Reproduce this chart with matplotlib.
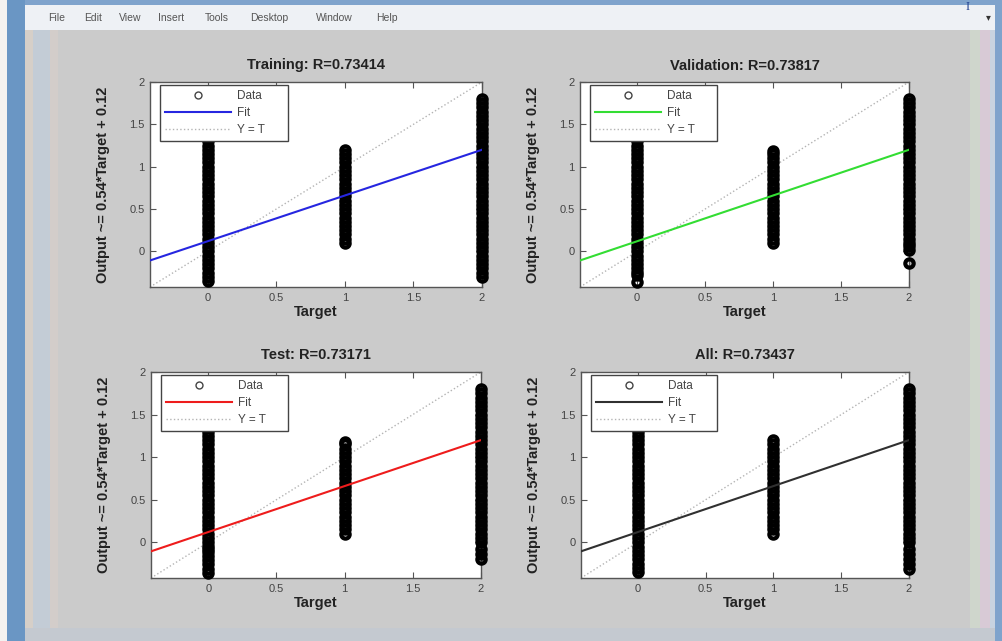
import matplotlib
matplotlib.use("Agg")
import matplotlib.pyplot as plt
from matplotlib.patches import Rectangle
from matplotlib.lines import Line2D

# ---------------- data ----------------
titles = ["Training: R=0.73414", "Validation: R=0.73817", "Test: R=0.73171", "All: R=0.73437"]
fit_colors = ["#2626e0", "#33dd33", "#ee1c1c", "#303030"]
fit_slope = 0.54
fit_offset = 0.12
ylabel_text = "Output ~= 0.54*Target + 0.12"
axis_min = -0.42
axis_max = 2.0
xticks = [0, 0.5, 1, 1.5, 2]
xtick_labels = ["0", "0.5", "1", "1.5", "2"]
yticks = [0, 0.5, 1, 1.5, 2]
ytick_labels = ["0", "0.5", "1", "1.5", "2"]
menu_items = ["File", "Edit", "View", "Insert", "Tools", "Desktop", "Window", "Help"]

# outputs at target 0, 1, 2 for each panel
train_t0 = [-0.35, -0.30, -0.25, -0.20, -0.15, -0.10, -0.05, 0.00, 0.05, 0.10,
            0.15, 0.20, 0.25, 0.30, 0.35, 0.40, 0.45, 0.50, 0.55, 0.60, 0.65, 0.70, 0.75,
            0.80, 0.85, 0.90, 0.95, 1.00, 1.05, 1.10, 1.15, 1.20, 1.25, 1.30]
train_t1 = [0.10, 0.15, 0.20, 0.25, 0.30, 0.35, 0.40, 0.45, 0.50, 0.55, 0.60, 0.65, 0.70,
            0.75, 0.80, 0.85, 0.90, 0.95, 1.00, 1.05, 1.10, 1.15, 1.20]
train_t2 = [-0.30, -0.25, -0.20, -0.15, -0.10, -0.05, 0.00, 0.05, 0.10, 0.15, 0.20, 0.25,
            0.30, 0.35, 0.40, 0.45, 0.50, 0.55, 0.60, 0.65, 0.70, 0.75, 0.80, 0.85, 0.90,
            0.95, 1.00, 1.05, 1.10, 1.15, 1.20, 1.25, 1.30, 1.35, 1.40, 1.45, 1.50, 1.55,
            1.60, 1.65, 1.70, 1.75, 1.80]

val_t0 = [-0.36, -0.28, -0.24, -0.20, -0.15, -0.10, -0.05, 0.00, 0.05, 0.10, 0.15, 0.20,
          0.25, 0.30, 0.35, 0.40, 0.45, 0.50, 0.55, 0.60, 0.65, 0.70, 0.75, 0.80, 0.85,
          0.90, 0.95, 1.00, 1.05, 1.10, 1.15, 1.20, 1.25, 1.30]
val_t1 = [0.10, 0.15, 0.20, 0.25, 0.30, 0.35, 0.40, 0.45, 0.50, 0.55, 0.60, 0.65, 0.70,
          0.75, 0.80, 0.85, 0.90, 0.95, 1.00, 1.05, 1.10, 1.15, 1.19]
val_t2 = [-0.14, 0.02, 0.06, 0.10, 0.15, 0.20, 0.25, 0.30, 0.35, 0.40, 0.45, 0.50, 0.55,
          0.60, 0.65, 0.70, 0.75, 0.80, 0.85, 0.90, 0.95, 1.00, 1.05, 1.10, 1.15, 1.20,
          1.25, 1.30, 1.35, 1.40, 1.45, 1.50, 1.55, 1.60, 1.65, 1.70, 1.75, 1.80]

test_t0 = [-0.36, -0.31, -0.26, -0.21, -0.16, -0.12, -0.08, -0.04, 0.00, 0.05,
           0.10, 0.15, 0.20, 0.25, 0.30, 0.35, 0.40, 0.45, 0.50, 0.55, 0.60, 0.65, 0.70,
           0.75, 0.80, 0.85, 0.90, 0.95, 1.00, 1.05, 1.10, 1.15, 1.20, 1.25, 1.30]
test_t1 = [0.10, 0.15, 0.20, 0.25, 0.30, 0.35, 0.40, 0.45, 0.50, 0.55, 0.60, 0.65, 0.70,
           0.75, 0.80, 0.85, 0.90, 0.95, 1.00, 1.05, 1.10, 1.15, 1.18]
test_t2 = [-0.20, -0.14, -0.08, 0.00, 0.05, 0.10, 0.15, 0.20, 0.25, 0.30, 0.35, 0.40,
           0.45, 0.50, 0.55, 0.60, 0.65, 0.70, 0.75, 0.80, 0.85, 0.90, 0.95, 1.00, 1.05,
           1.10, 1.15, 1.20, 1.25, 1.30, 1.35, 1.40, 1.45, 1.50, 1.55, 1.60, 1.65, 1.70,
           1.75, 1.80]

all_t0 = [-0.35, -0.30, -0.25, -0.20, -0.15, -0.10, -0.05, 0.00, 0.05, 0.10,
          0.15, 0.20, 0.25, 0.30, 0.35, 0.40, 0.45, 0.50, 0.55, 0.60, 0.65, 0.70, 0.75,
          0.80, 0.85, 0.90, 0.95, 1.00, 1.05, 1.10, 1.15, 1.20, 1.25, 1.30]
all_t1 = [0.10, 0.15, 0.20, 0.25, 0.30, 0.35, 0.40, 0.45, 0.50, 0.55, 0.60, 0.65, 0.70,
          0.75, 0.80, 0.85, 0.90, 0.95, 1.00, 1.05, 1.10, 1.15, 1.20]
all_t2 = [-0.32, -0.26, -0.20, -0.14, -0.08, 0.00, 0.05, 0.10, 0.15, 0.20, 0.25, 0.30,
          0.35, 0.40, 0.45, 0.50, 0.55, 0.60, 0.65, 0.70, 0.75, 0.80, 0.85, 0.90, 0.95,
          1.00, 1.05, 1.10, 1.15, 1.20, 1.25, 1.30, 1.35, 1.40, 1.45, 1.50, 1.55, 1.60,
          1.65, 1.70, 1.75, 1.80]

panels = [
    (train_t0, train_t1, train_t2),
    (val_t0, val_t1, val_t2),
    (test_t0, test_t1, test_t2),
    (all_t0, all_t1, all_t2),
]

# ---------------- figure / window chrome ----------------
W, H = 1003, 641
plt.rcParams["font.family"] = ["Liberation Sans", "DejaVu Sans"]
fig = plt.figure(figsize=(W / 100, H / 100), dpi=100)
fig.patch.set_facecolor("#cbcbcb")


def px_rect(x0, y0, x1, y1, color, z=0):
    fig.patches.append(Rectangle((x0 / W, 1 - y1 / H), (x1 - x0) / W, (y1 - y0) / H,
                                 transform=fig.transFigure, facecolor=color,
                                 edgecolor="none", zorder=z))


px_rect(0, 0, 7, H, "#f4f2f0")
px_rect(7, 0, 25, H, "#6a96c4")
px_rect(25, 30, 33, H, "#d6cfc8")
px_rect(33, 30, 50, H, "#c3ccd6")
px_rect(50, 30, 58, H, "#d3cdca")
px_rect(25, 0, W, 5, "#7fa3cc")
px_rect(25, 5, 995, 30, "#eef1f5")
px_rect(970, 30, 980, H, "#cfd6cc")
px_rect(980, 30, 990, H, "#d8cad6")
px_rect(990, 30, 997, H, "#c8d3e0")
px_rect(995, 0, W, H, "#7fa3cc")
px_rect(25, 628, 995, H, "#c4c9d0")

menu_x = [48, 84, 119, 158, 205, 250, 316, 376]
for mx, item in zip(menu_x, menu_items):
    fig.text(mx / W, 1 - 18 / H, item, fontsize=7.5, color="#555555", va="center", ha="left")
fig.text(988 / W, 1 - 17 / H, "\u25BE", fontsize=7, color="#333333", va="center", ha="center")
fig.text(968 / W, 1 - 1 / H, "I", fontsize=9, family="Liberation Serif", color="#1f3f8f",
         va="top", ha="center")

# ---------------- axes ----------------
boxes_px = [
    (150, 82, 482, 287),
    (580, 82, 909, 287),
    (151, 372, 481, 578),
    (581, 372, 909, 578),
]

fit_x = [axis_min, axis_max]
for (x0, y0, x1, y1), title, col, data in zip(boxes_px, titles, fit_colors, panels):
    ax = fig.add_axes([x0 / W, 1 - y1 / H, (x1 - x0) / W, (y1 - y0) / H])
    ax.set_facecolor("white")
    # Y = T
    ax.plot(fit_x, fit_x, linestyle=":", color="#b4b4b4", linewidth=1.0, zorder=1)
    # data
    for target, outputs in zip([0, 1, 2], data):
        ax.plot([target] * len(outputs), outputs, linestyle="none", marker="o",
                markersize=6, markerfacecolor="none", markeredgecolor="black",
                markeredgewidth=3.0, zorder=2, clip_on=False)
    # fit
    ax.plot(fit_x, [fit_slope * v + fit_offset for v in fit_x], color=col,
            linewidth=1.5, zorder=3)

    ax.set_xlim(axis_min, axis_max)
    ax.set_ylim(axis_min, axis_max)
    ax.set_xticks(xticks)
    ax.set_xticklabels(xtick_labels)
    ax.set_yticks(yticks)
    ax.set_yticklabels(ytick_labels)
    ax.tick_params(direction="in", top=True, right=True, length=4, width=0.8,
                   labelsize=8, labelcolor="#444444", color="#555555", pad=4)
    for s in ax.spines.values():
        s.set_color("#555555")
        s.set_linewidth(1.0)
        s.set_zorder(1.5)
    ax.set_title(title, fontsize=10.5, fontweight="bold", color="#222222", pad=9)
    ax.set_xlabel("Target", fontsize=10.5, fontweight="bold", color="#222222", labelpad=2)
    ax.set_ylabel(ylabel_text, fontsize=10.5, fontweight="bold", color="#222222", labelpad=14)

    handles = [
        Line2D([], [], linestyle="none", marker="o", markersize=5, markerfacecolor="none",
               markeredgecolor="#444444", markeredgewidth=1.0),
        Line2D([], [], color=col, linewidth=1.5),
        Line2D([], [], color="#b4b4b4", linestyle=":", linewidth=1.0),
    ]
    leg = ax.legend(handles, ["Data", "Fit", "Y = T"], loc="upper left",
                    bbox_to_anchor=(0.03, 0.985, 0.386, 0.0), mode="expand",
                    fontsize=8.5, handlelength=5.6,
                    labelspacing=0.4, borderpad=0.45, handletextpad=0.5,
                    frameon=True, fancybox=False, framealpha=1, borderaxespad=0.0)
    leg.get_frame().set_edgecolor("#444444")
    leg.get_frame().set_linewidth(1.0)
    for t in leg.get_texts():
        t.set_color("#444444")
    leg.set_zorder(5)

fig.savefig("out.png", dpi=100, facecolor=fig.get_facecolor())
